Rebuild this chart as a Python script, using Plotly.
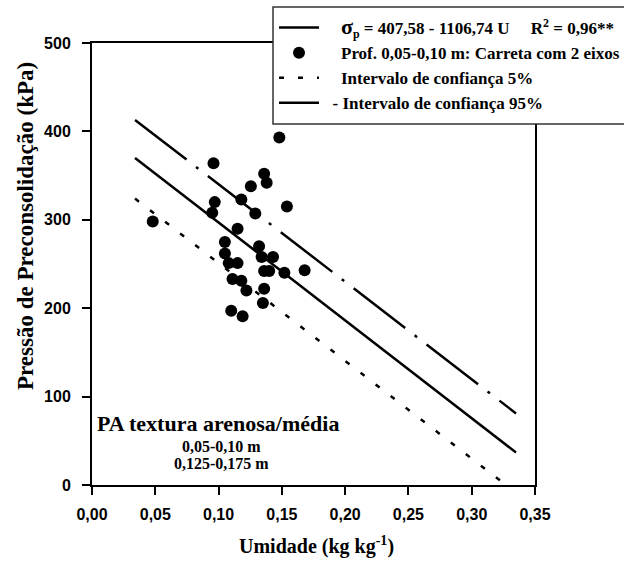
import plotly.graph_objects as go

# ---- data ----
moisture = [0.148, 0.096, 0.136, 0.138, 0.1255, 0.118, 0.097, 0.095, 0.129, 0.154,
            0.115, 0.105, 0.132, 0.105, 0.134, 0.143, 0.108, 0.115, 0.136, 0.140,
            0.152, 0.168, 0.111, 0.118, 0.122, 0.136, 0.135, 0.110, 0.119, 0.048]
pressure = [393, 364, 352, 342, 338, 323, 320, 308, 307, 315,
            290, 275, 270, 262, 258, 258, 251, 251, 242, 242,
            240, 243, 233, 231, 220, 222, 206, 197, 191, 298]

reg_x = [0.034, 0.335]
reg_y = [370.0, 36.8]
ci95_x = [0.034, 0.335]
ci95_y = [413, 81]
ci5_x = [0.034, 0.327]
ci5_y = [324, 0]

x_ticks = [0.0, 0.05, 0.10, 0.15, 0.20, 0.25, 0.30, 0.35]
x_tick_labels = ["0,00", "0,05", "0,10", "0,15", "0,20", "0,25", "0,30", "0,35"]
y_ticks = [0, 100, 200, 300, 400, 500]
y_tick_labels = ["0", "100", "200", "300", "400", "500"]

SERIF = "Liberation Serif, Times New Roman, serif"
SANS = "Liberation Sans, Arial, sans-serif"
NB = "\u00a0"

fig = go.Figure()
fig.add_trace(go.Scatter(
    x=reg_x, y=reg_y, mode="lines",
    line=dict(color="black", width=2.5),
    name=NB * 4 + "<span style='font-size:22px'>σ</span><sub>p</sub> = 407,58 - 1106,74 U" + NB * 5 + "R<sup>2</sup> = 0,96**",
))
fig.add_trace(go.Scatter(
    x=moisture, y=pressure, mode="markers",
    marker=dict(color="black", size=12),
    name=NB * 4 + "Prof. 0,05-0,10 m: Carreta com 2 eixos",
))
fig.add_trace(go.Scatter(
    x=ci5_x, y=ci5_y, mode="lines",
    line=dict(color="black", width=2.5, dash="5px,14px"),
    name=NB * 4 + "Intervalo de confiança 5%",
))
fig.add_trace(go.Scatter(
    x=ci95_x, y=ci95_y, mode="lines",
    line=dict(color="black", width=2.5, dash="65px,12px,3px,12px"),
    name=NB * 2 + "- Intervalo de confiança 95%",
))

L, R, T, B = 92, 89, 43, 81
W, H = 624, 566
PW, PH = W - L - R, H - T - B


def px2paper_x(px):
    return (px - L) / PW


def px2paper_y(py):
    return (H - B - py) / PH


fig.add_shape(type="rect", xref="paper", yref="paper",
              x0=px2paper_x(273), x1=px2paper_x(640),
              y0=px2paper_y(124), y1=px2paper_y(7),
              line=dict(color="#333333", width=1.5), fillcolor="white", layer="above")

fig.add_annotation(x=0.0995, y=70, xref="x", yref="y", text="PA textura arenosa/média",
                   showarrow=False, xanchor="center", yanchor="middle",
                   font=dict(family=SERIF, size=22, color="black", weight="bold"))
fig.add_annotation(x=0.102, y=44, xref="x", yref="y", text="0,05-0,10 m",
                   showarrow=False, xanchor="center", yanchor="middle",
                   font=dict(family=SERIF, size=16, color="black", weight="bold"))
fig.add_annotation(x=0.102, y=24, xref="x", yref="y", text="0,125-0,175 m",
                   showarrow=False, xanchor="center", yanchor="middle",
                   font=dict(family=SERIF, size=16, color="black", weight="bold"))

fig.add_annotation(x=px2paper_x(25), y=px2paper_y(226), xref="paper", yref="paper",
                   text="Pressão de Preconsolidação (kPa)", textangle=-90, showarrow=False,
                   xanchor="center", yanchor="middle",
                   font=dict(family=SERIF, size=23, color="black", weight="bold"))
fig.add_annotation(x=px2paper_x(316), y=px2paper_y(545), xref="paper", yref="paper",
                   text="Umidade (kg kg<sup>-1</sup>)", showarrow=False,
                   xanchor="center", yanchor="middle",
                   font=dict(family=SERIF, size=20, color="black", weight="bold"))

axis_common = dict(showline=True, linecolor="black", linewidth=2, mirror=True,
                   ticks="outside", ticklen=8, tickwidth=2, tickcolor="black",
                   showgrid=False, zeroline=False,
                   tickfont=dict(family=SANS, size=16, color="black", weight="bold"))

fig.update_xaxes(range=[0, 0.35], tickvals=x_ticks, ticktext=x_tick_labels,
                 ticklabelstandoff=6, **axis_common)
fig.update_yaxes(range=[0, 500], tickvals=y_ticks, ticktext=y_tick_labels,
                 ticklabelstandoff=8, **axis_common)

fig.update_layout(
    width=W, height=H,
    margin=dict(l=L, r=R, t=T, b=B, autoexpand=False),
    plot_bgcolor="white", paper_bgcolor="white",
    showlegend=True,
    legend=dict(x=px2paper_x(274), y=px2paper_y(10), xanchor="left", yanchor="top",
                bgcolor="rgba(0,0,0,0)", borderwidth=0,
                font=dict(family=SERIF, size=17, color="black", weight="bold"),
                tracegroupgap=0, itemwidth=40),
)

fig.write_html("out.html")
